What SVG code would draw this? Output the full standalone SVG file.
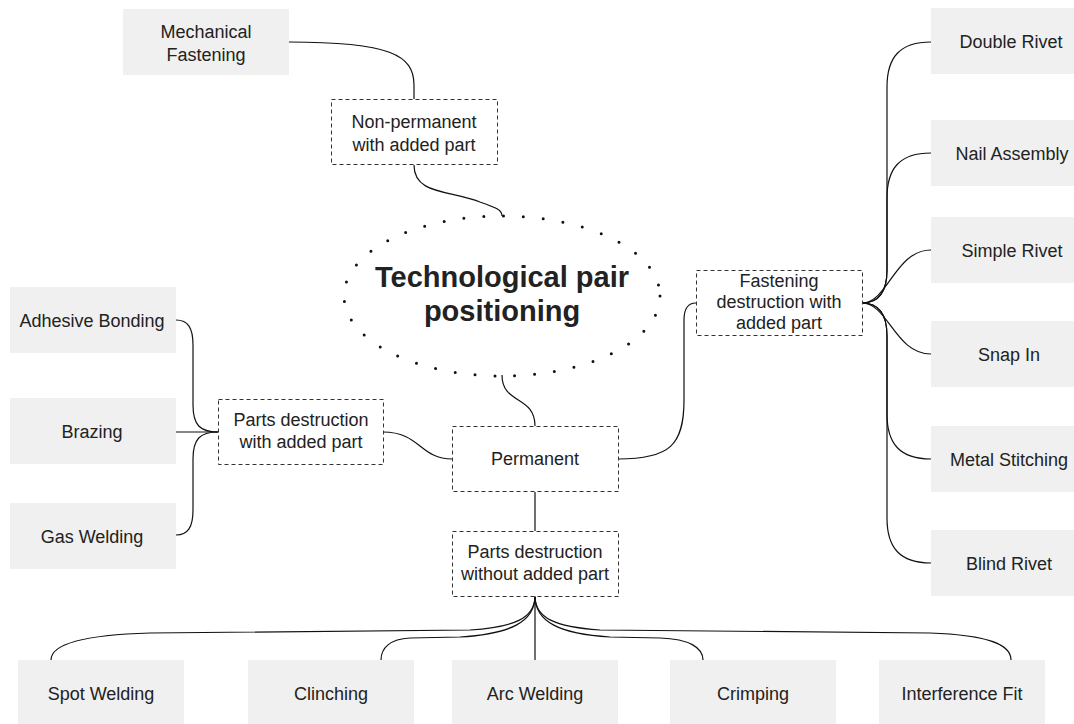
<svg xmlns="http://www.w3.org/2000/svg" width="1074" height="724" viewBox="0 0 1074 724">
<style>
.leaf{fill:#eff0ef;stroke:none}
.dash{fill:#fff;stroke:#333;stroke-width:1;stroke-dasharray:4 3}
.t{font-family:"Liberation Sans",Arial,sans-serif;font-size:18px;fill:#222;text-anchor:middle}
.title{font-family:"Liberation Sans",Arial,sans-serif;font-size:29px;font-weight:bold;fill:#222;text-anchor:middle}
.c{fill:none;stroke:#111;stroke-width:1.2}
</style>
<rect width="1074" height="724" fill="#fff"/>
<g id="connectors">
<path class="c" d="M289,42 C390,42 414,55 414,85 L414,99"/>
<path class="c" d="M414,165 C414,195 450,190 480,202 C497,208 502,210 502,216"/>
<path class="c" d="M502,375 C502,405 535,395 535,426"/>
<path class="c" d="M383,432 C420,432 420,459 452,459"/>
<path class="c" d="M618,459 C670,459 684,445 684,400 L684,320 C684,308 688,303 696,303"/>
<path class="c" d="M862,303 C878,303 887,292 887,270 L887,87 C887,57 900,42 931,42"/>
<path class="c" d="M862,303 C878,303 887,292 887,270 L887,198 C887,168 900,153 931,153"/>
<path class="c" d="M862,303 C888,303 895,250 931,250"/>
<path class="c" d="M862,303 C888,303 895,354 931,354"/>
<path class="c" d="M862,303 C878,303 887,314 887,336 L887,414 C887,444 900,459 931,459"/>
<path class="c" d="M862,303 C878,303 887,314 887,336 L887,518 C887,548 900,563 931,563"/>
<path class="c" d="M218,432 C200,432 193,425 193,405 L193,345 C193,328 188,320 176,320"/>
<path class="c" d="M218,432 L176,432"/>
<path class="c" d="M218,432 C200,432 193,439 193,459 L193,510 C193,527 188,535 176,535"/>
<path class="c" d="M535,492 L535,531"/>
<path class="c" d="M535,596 C535,618 515,627 470,630 L150,633 C80,635 51,645 51,660"/>
<path class="c" d="M535,596 C535,622 510,634 460,637 L410,638 C390,639 381,648 381,660"/>
<path class="c" d="M535,596 L535,660"/>
<path class="c" d="M535,596 C535,622 560,634 610,637 L660,638 C690,639 703,648 703,660"/>
<path class="c" d="M535,596 C535,618 555,627 600,630 L930,633 C990,635 1011,645 1011,660"/>
</g>
<g id="center">
<ellipse cx="502" cy="296" rx="158" ry="80" fill="none" stroke="#111" stroke-width="3" stroke-linecap="round" stroke-dasharray="0 19.9"/>
<text class="title" x="502" y="287">Technological pair</text>
<text class="title" x="502" y="321">positioning</text>
</g>
<g id="mechanical-fastening"><rect class="leaf" x="123" y="9" width="166" height="66"/><text class="t" x="206" y="38">Mechanical</text><text class="t" x="206" y="61">Fastening</text></g>
<g id="non-permanent"><rect class="dash" x="331.5" y="99.5" width="166" height="65"/><text class="t" x="414" y="128">Non-permanent</text><text class="t" x="414" y="151">with added part</text></g>
<g id="fastening-destruction"><rect class="dash" x="696.5" y="270.5" width="166" height="65"/><text class="t" x="779" y="287">Fastening</text><text class="t" x="779" y="308">destruction with</text><text class="t" x="779" y="329">added part</text></g>
<g id="permanent"><rect class="dash" x="452.5" y="426.5" width="166" height="65"/><text class="t" x="535" y="465">Permanent</text></g>
<g id="parts-with"><rect class="dash" x="218.5" y="399.5" width="165" height="65"/><text class="t" x="301" y="426">Parts destruction</text><text class="t" x="301" y="448">with added part</text></g>
<g id="parts-without"><rect class="dash" x="452.5" y="531.5" width="166" height="65"/><text class="t" x="535" y="558">Parts destruction</text><text class="t" x="535" y="580">without added part</text></g>
<g id="double-rivet"><rect class="leaf" x="931" y="8" width="166" height="66"/><text class="t" x="1011" y="48">Double Rivet</text></g>
<g id="nail-assembly"><rect class="leaf" x="931" y="120" width="166" height="66"/><text class="t" x="1012" y="160">Nail Assembly</text></g>
<g id="simple-rivet"><rect class="leaf" x="931" y="217" width="166" height="66"/><text class="t" x="1012" y="257">Simple Rivet</text></g>
<g id="snap-in"><rect class="leaf" x="931" y="321" width="166" height="66"/><text class="t" x="1009" y="361">Snap In</text></g>
<g id="metal-stitching"><rect class="leaf" x="931" y="426" width="166" height="66"/><text class="t" x="1009" y="466">Metal Stitching</text></g>
<g id="blind-rivet"><rect class="leaf" x="931" y="530" width="166" height="66"/><text class="t" x="1009" y="570">Blind Rivet</text></g>
<g id="adhesive-bonding"><rect class="leaf" x="10" y="287" width="166" height="66"/><text class="t" x="92" y="327">Adhesive Bonding</text></g>
<g id="brazing"><rect class="leaf" x="10" y="398" width="166" height="66"/><text class="t" x="92" y="438">Brazing</text></g>
<g id="gas-welding"><rect class="leaf" x="10" y="503" width="166" height="66"/><text class="t" x="92" y="543">Gas Welding</text></g>
<g id="spot-welding"><rect class="leaf" x="18" y="660" width="166" height="66"/><text class="t" x="101" y="700">Spot Welding</text></g>
<g id="clinching"><rect class="leaf" x="248" y="660" width="166" height="66"/><text class="t" x="331" y="700">Clinching</text></g>
<g id="arc-welding"><rect class="leaf" x="452" y="660" width="166" height="66"/><text class="t" x="535" y="700">Arc Welding</text></g>
<g id="crimping"><rect class="leaf" x="670" y="660" width="166" height="66"/><text class="t" x="753" y="700">Crimping</text></g>
<g id="interference-fit"><rect class="leaf" x="879" y="660" width="166" height="66"/><text class="t" x="962" y="700">Interference Fit</text></g>
</svg>
